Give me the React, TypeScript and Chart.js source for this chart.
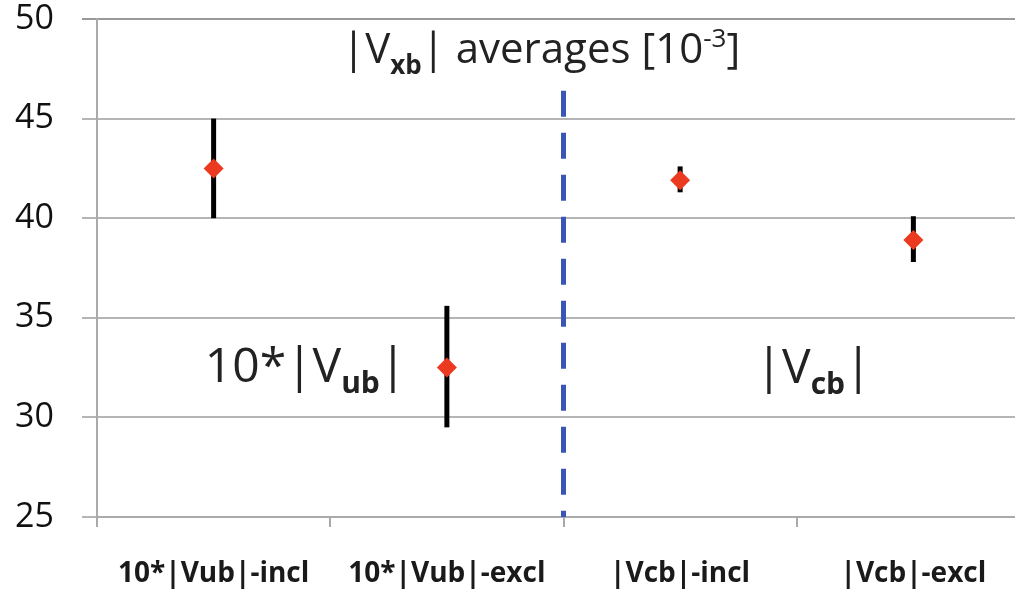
import React, { useEffect, useRef } from "react";
import { Chart, registerables } from "chart.js";

Chart.register(...registerables);

const categories = ["10*|Vub|-incl", "10*|Vub|-excl", "|Vcb|-incl", "|Vcb|-excl"];
const centralValues = [42.5, 32.5, 41.9, 38.9];
const errorLow = [40.0, 29.5, 41.3, 37.8];
const errorHigh = [45.0, 35.6, 42.6, 40.1];
const yTicks = [25, 30, 35, 40, 45, 50];
const dividerTopValue = 46.4;

const FONT = "'Open Sans', Lato, sans-serif";

type Seg = { t: string; size: number; dy: number; bold?: boolean };

function drawSegs(ctx: CanvasRenderingContext2D, segs: Seg[], cx: number, baseY: number, color: string) {
  let total = 0;
  for (const s of segs) {
    ctx.font = `${s.bold ? "bold " : ""}${s.size}px ${FONT}`;
    total += ctx.measureText(s.t).width;
  }
  let x = cx - total / 2;
  ctx.fillStyle = color;
  ctx.textBaseline = "alphabetic";
  ctx.textAlign = "left";
  for (const s of segs) {
    ctx.font = `${s.bold ? "bold " : ""}${s.size}px ${FONT}`;
    ctx.fillText(s.t, x, baseY + s.dy);
    x += ctx.measureText(s.t).width;
  }
}

const overlayPlugin = {
  id: "overlay",
  beforeDatasetsDraw(chart: any) {
    const ctx = chart.ctx as CanvasRenderingContext2D;
    const xs = chart.scales.x;
    const ys = chart.scales.y;
    ctx.save();
    const dx = (xs.getPixelForValue(1) + xs.getPixelForValue(2)) / 2;
    ctx.strokeStyle = "#3a55b4";
    ctx.lineWidth = 5;
    ctx.setLineDash([26, 16]);
    ctx.lineCap = "butt";
    ctx.beginPath();
    ctx.moveTo(dx, ys.getPixelForValue(dividerTopValue));
    ctx.lineTo(dx, ys.getPixelForValue(25));
    ctx.stroke();
    ctx.setLineDash([]);
    ctx.strokeStyle = "#000";
    ctx.lineWidth = 5;
    for (let i = 0; i < categories.length; i++) {
      const x = xs.getPixelForValue(i);
      ctx.beginPath();
      ctx.moveTo(x, ys.getPixelForValue(errorLow[i]));
      ctx.lineTo(x, ys.getPixelForValue(errorHigh[i]));
      ctx.stroke();
    }
    ctx.restore();
  },
  afterDraw(chart: any) {
    const ctx = chart.ctx as CanvasRenderingContext2D;
    const a = chart.chartArea;
    const w = a.right - a.left;
    const h = a.bottom - a.top;
    ctx.save();
    drawSegs(
      ctx,
      [
        { t: "|V", size: 42, dy: 0 },
        { t: "xb", size: 26, dy: 11, bold: true },
        { t: "| averages [10", size: 42, dy: 0 },
        { t: "-3", size: 26, dy: -16 },
        { t: "]", size: 42, dy: 0 },
      ],
      a.left + w * 0.476,
      a.top + h * 0.088,
      "#222"
    );
    drawSegs(
      ctx,
      [
        { t: "10*|V", size: 48, dy: 0 },
        { t: "ub", size: 30, dy: 11, bold: true },
        { t: "|", size: 48, dy: 0 },
      ],
      a.left + w * 0.2235,
      a.top + h * 0.729,
      "#222"
    );
    drawSegs(
      ctx,
      [
        { t: "|V", size: 48, dy: 0 },
        { t: "cb", size: 30, dy: 11, bold: true },
        { t: "|", size: 48, dy: 0 },
      ],
      a.left + w * 0.768,
      a.top + h * 0.731,
      "#222"
    );
    ctx.restore();
  },
};

export default function App() {
  const ref = useRef<HTMLCanvasElement>(null);
  useEffect(() => {
    if (!ref.current) return;
    const chart = new Chart(ref.current, {
      type: "line",
      data: {
        labels: categories,
        datasets: [
          {
            data: centralValues,
            showLine: false,
            pointStyle: "rectRot",
            pointRadius: 10,
            pointHoverRadius: 10,
            backgroundColor: "#ec3a20",
            borderColor: "#ec3a20",
            pointBorderWidth: 0,
          },
        ],
      },
      options: {
        animation: false,
        responsive: false,
        events: [],
        layout: { padding: { top: 19, right: 0, left: 15, bottom: 0 } },
        plugins: { legend: { display: false }, tooltip: { enabled: false }, title: { display: false } },
        scales: {
          x: {
            type: "category",
            offset: true,
            grid: { display: true, drawOnChartArea: false, drawTicks: true, tickLength: 10, color: "#aaaaaa", lineWidth: 2, offset: true },
            border: { display: true, color: "#aaaaaa", width: 2 },
            ticks: { font: { family: FONT, size: 28, weight: "bold" }, color: "#1a1a1a", padding: 30, maxRotation: 0, autoSkip: false },
            afterFit: (s: any) => { s.height = 77; },
          },
          y: {
            min: 25,
            max: 50,
            afterBuildTicks: (s: any) => { s.ticks = yTicks.map((v) => ({ value: v })); },
            grid: { color: (c: any) => (c.tick && c.tick.value === 50 ? "#999999" : "#b5b5b5"), lineWidth: 2, tickLength: 15 },
            border: { display: true, color: "#aaaaaa", width: 2 },
            ticks: { font: { family: FONT, size: 34, lineHeight: 1 }, color: "#111", padding: 0, crossAlign: "far" },
            afterFit: (s: any) => { s.width = 82; },
          },
        },
      },
      plugins: [overlayPlugin],
    });
    return () => chart.destroy();
  }, []);
  return (
    <div style={{ position: "fixed", left: 0, top: 0, width: 1015, height: 594, overflow: "hidden", background: "#fff" }}>
      <canvas ref={ref} width={1040} height={594} style={{ display: "block" }} />
    </div>
  );
}
